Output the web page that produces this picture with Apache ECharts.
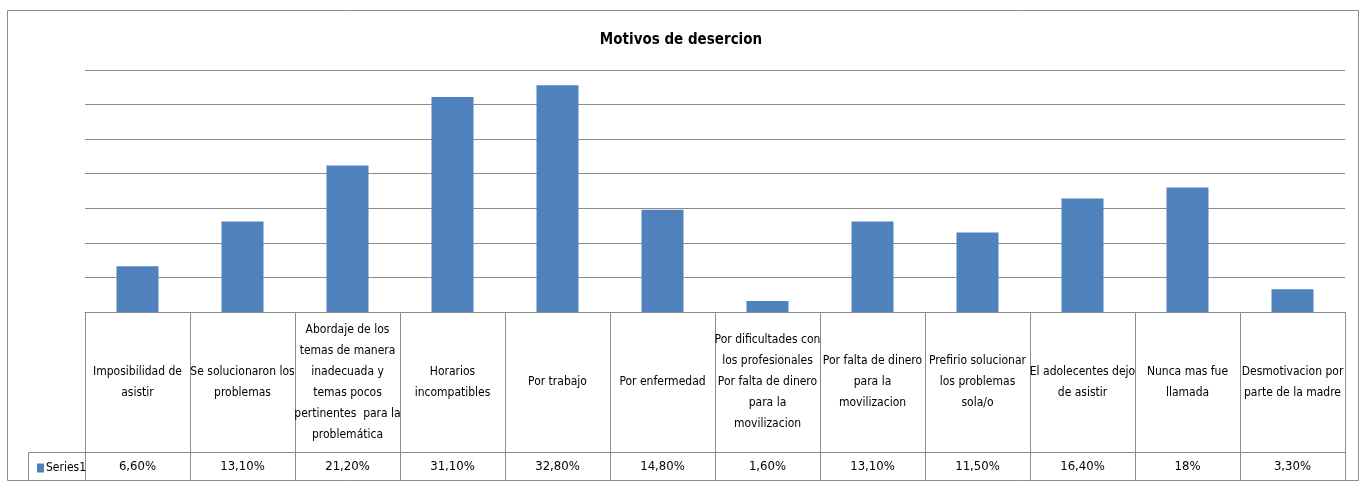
<!DOCTYPE html>
<html>
<head>
<meta charset="utf-8">
<script src="https://cdn.jsdelivr.net/npm/echarts@6/dist/echarts.min.js"></script>
<style>
  html, body { margin: 0; padding: 0; background: #fff; }
  #main { width: 1362px; height: 483px; }
</style>
</head>
<body>
<div id="main"></div>
<script>
// categorias (con saltos de linea como en la tabla original)
const motivos = [
  'Imposibilidad de\nasistir',
  'Se solucionaron los\nproblemas',
  'Abordaje de los\ntemas de manera\ninadecuada y\ntemas pocos\npertinentes  para la\nproblemática',
  'Horarios\nincompatibles',
  'Por trabajo',
  'Por enfermedad',
  'Por dificultades con\nlos profesionales\nPor falta de dinero\npara la\nmovilizacion',
  'Por falta de dinero\npara la\nmovilizacion',
  'Prefirio solucionar\nlos problemas\nsola/o',
  'El adolecentes dejo\nde asistir',
  'Nunca mas fue\nllamada',
  'Desmotivacion por\nparte de la madre'
];
// porcentajes
const series1 = [6.6, 13.1, 21.2, 31.1, 32.8, 14.8, 1.6, 13.1, 11.5, 16.4, 18, 3.3];

const font = "'Liberation Sans Narrow', 'DejaVu Sans Condensed', 'Liberation Sans', sans-serif";
const lineColor = '#8c8c8c';

// formato tipo "6,60%" / "18%"
function pct(v) {
  if (v % 1 === 0) return v + '%';
  return v.toFixed(2).replace('.', ',') + '%';
}

let chart = echarts.init(document.getElementById('main'));

const option = {
  backgroundColor: '#fff',
  animation: false,
  title: {
    text: 'Motivos de desercion',
    left: 'center',
    top: 28,
    textStyle: { fontFamily: font, fontSize: 15, fontWeight: 'bold', color: '#000' }
  },
  legend: {
    left: 32,
    top: 457,
    icon: 'rect',
    itemWidth: 7,
    itemHeight: 9,
    itemGap: 0,
    textStyle: { fontFamily: font, fontSize: 12, color: '#000', padding: [0, 0, 0, -3] },
    data: ['Series1']
  },
  grid: { left: 85, right: 17, top: 70, bottom: 171, containLabel: false },
  xAxis: [
    {
      type: 'category',
      data: motivos,
      position: 'bottom',
      axisLine: { lineStyle: { color: lineColor, width: 1 } },
      axisTick: { show: true, length: 169, lineStyle: { color: lineColor } },
      axisLabel: {
        interval: 0,
        margin: 70,
        verticalAlign: 'middle',
        align: 'center',
        fontFamily: font,
        fontSize: 12,
        lineHeight: 21,
        color: '#000'
      }
    },
    {
      type: 'category',
      data: motivos,
      position: 'bottom',
      offset: 140,
      axisLine: { lineStyle: { color: lineColor, width: 1 } },
      axisTick: { show: false },
      axisLabel: {
        interval: 0,
        margin: 15,
        verticalAlign: 'middle',
        fontFamily: font,
        fontSize: 13,
        color: '#000',
        formatter: (value, idx) => pct(series1[idx])
      }
    }
  ],
  yAxis: {
    type: 'value',
    min: 0,
    max: 35,
    interval: 5,
    axisLine: { show: false },
    axisTick: { show: false },
    axisLabel: { show: false },
    splitLine: { lineStyle: { color: lineColor, width: 1 } }
  },
  graphic: [
    {
      type: 'rect',
      shape: { x: 7.5, y: 10.5, width: 1351, height: 470 },
      style: { fill: 'none', stroke: lineColor, lineWidth: 1 },
      silent: true
    },
    {
      type: 'rect',
      shape: { x: 28.5, y: 452.5, width: 57, height: 28 },
      style: { fill: 'none', stroke: lineColor, lineWidth: 1 },
      silent: true
    }
  ],
  series: [
    {
      name: 'Series1',
      type: 'bar',
      data: series1,
      barWidth: '40%',
      itemStyle: { color: '#4f81bd' }
    }
  ]
};

chart.setOption(option);
</script>
</body>
</html>
